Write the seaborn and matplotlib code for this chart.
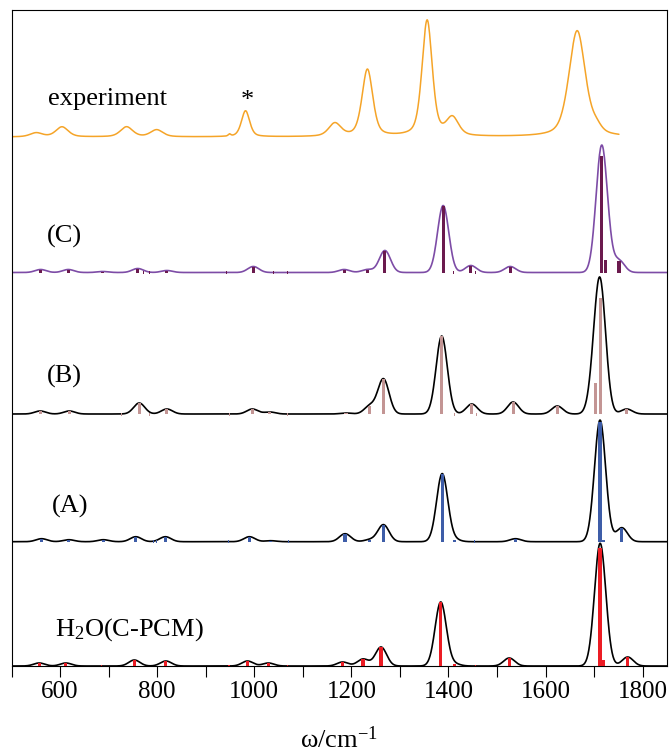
import numpy as np
import pandas as pd
import matplotlib
matplotlib.use("Agg")
import matplotlib.pyplot as plt
import seaborn as sns

# ---------------- data ----------------
# experiment: peak positions (cm-1), heights, widths (FWHM, cm-1)
exp_pos = [551, 604, 737, 799, 949, 982, 1166, 1233, 1356, 1408, 1665, 1705]
exp_height = [4, 10, 10, 7, 2, 26, 13, 67, 116, 18, 106, 6]
exp_fwhm = [30, 30, 30, 30, 6, 20, 30, 26, 25, 30, 40, 25]
exp_range = [500, 1751]

# (C) sticks
c_freq = [560, 617, 688, 760, 771, 785, 820, 942, 998, 1039, 1069, 1185, 1233, 1269,
          1389, 1411, 1446, 1455, 1527, 1715, 1723, 1751]
c_int = [3, 3, 1, 4, 0, 0, 2, 0, 6, 0, 0, 3, 3, 22, 67, 0, 7, 0, 6, 117, 13, 12]

# (B) sticks
b_freq = [559, 619, 727, 763, 785, 820, 949, 996, 1032, 1069, 1189, 1238, 1266, 1386,
          1413, 1448, 1457, 1533, 1624, 1702, 1713, 1767]
b_int = [3, 3, 0, 11, 0, 5, 0, 5, 2, 0, 1, 8, 35, 78, 0, 10, 0, 12, 8, 31, 116, 5]

# (A) sticks
a_freq = [562, 618, 689, 756, 792, 799, 817, 946, 990, 1034, 1070, 1187, 1238, 1266,
          1387, 1413, 1454, 1538, 1712, 1719, 1757]
a_int = [3, 2, 2, 5, 0, 0, 5, 0, 5, 1, 0, 8, 2, 17, 68, 2, 0, 3, 120, 2, 14]

# H2O (C-PCM) sticks
h_freq = [557, 612, 686, 753, 818, 948, 986, 1029, 1069, 1182, 1224, 1261, 1384, 1413,
          1456, 1525, 1712, 1720, 1769]
h_int = [3, 3, 0, 6, 5, 0, 5, 3, 0, 4, 7, 19, 64, 2, 0, 8, 118, 6, 9]

panel_labels = ["experiment", "(C)", "(B)", "(A)", "H$_2$O(C-PCM)"]
xticks_major = [600, 800, 1000, 1200, 1400, 1600, 1800]
xticks_minor = [500, 700, 900, 1100, 1300, 1500, 1700]

# ---------------- style ----------------
sns.set_theme(style="white")
plt.rcParams['font.family'] = ['Liberation Serif', 'DejaVu Serif']
plt.rcParams['mathtext.fontset'] = 'custom'
plt.rcParams['mathtext.rm'] = 'Liberation Serif'
plt.rcParams['mathtext.it'] = 'Liberation Serif:italic'
plt.rcParams['text.color'] = 'black'
plt.rcParams['axes.labelcolor'] = 'black'
plt.rcParams['xtick.color'] = 'black'
plt.rcParams['xtick.labelcolor'] = 'black'

W, H = 671, 755
fig = plt.figure(figsize=(W / 100, H / 100), dpi=100)
L, R, T, B = 11.5, 667.0, 10.0, 666.0
ax = fig.add_axes([L / W, 1 - B / H, (R - L) / W, (B - T) / H])

grid = np.arange(500, 1851, 1.0)
sigma = 11.5


def broaden(freq, inten):
    f = np.asarray(freq, float)[:, None]
    i = np.asarray(inten, float)[:, None]
    return (i * np.exp(-(grid[None, :] - f) ** 2 / (2 * sigma ** 2))).sum(axis=0)


# experiment curve: pseudo-Voigt sum of the read peaks
xe = grid[(grid >= exp_range[0]) & (grid <= exp_range[1])]
ye = np.zeros_like(xe)
eta = 0.45
for p, h, w in zip(exp_pos, exp_height, exp_fwhm):
    d = xe - p
    lor = 1.0 / (1.0 + (2 * d / w) ** 2)
    gau = np.exp(-4 * np.log(2) * d ** 2 / w ** 2)
    ye += h * (eta * lor + (1 - eta) * gau)

base_exp, base_c, base_b, base_a, base_h = 529, 393.5, 252, 124.3, 0

sns.lineplot(x=xe, y=ye + base_exp, color='#F5A428', lw=1.1, ax=ax,
             estimator=None, sort=False)

panels = [
    (c_freq, c_int, base_c, '#7D4CA6', '#6B1A4E'),
    (b_freq, b_int, base_b, 'black', '#C39594'),
    (a_freq, a_int, base_a, 'black', '#3E5DA8'),
    (h_freq, h_int, base_h, 'black', '#EC1C24'),
]
for freq, inten, base, lc, sc in panels:
    y = broaden(freq, inten) + base
    sns.lineplot(x=grid, y=y, color=lc, lw=1.2, ax=ax, estimator=None,
                 sort=False, zorder=2)
    freq = np.asarray(freq, float)
    inten = np.asarray(inten, float)
    big = inten > 0
    ax.bar(freq[big], inten[big], bottom=base, width=6.5, color=sc,
           linewidth=0, zorder=3)
    ax.bar(freq[~big], 3.0, bottom=base - 1.5, width=2.2, color=sc,
           linewidth=0, zorder=3)

# ---------------- texts ----------------
def px2data(px, py):
    return 500 + (px - L) * 1350 / (R - L), B - py

label_px = [(48, 99), (47, 236), (47, 376), (52, 506), (55, 630)]
for txt, (px, py) in zip(panel_labels, label_px):
    ax.text(*px2data(px, py), txt, fontsize=19, ha='left', va='center',
            color='black')
ax.text(*px2data(247, 101), '*', fontsize=19, ha='center', va='center',
        color='black')

ax.set_xlim(500, 1850)
ax.set_ylim(0, B - T)
ax.set_xticks(xticks_major)
ax.set_xticks(xticks_minor, minor=True)
ax.set_yticks([])
ax.tick_params(axis='x', which='both', direction='out', length=8, width=0.8,
               color='black', bottom=True)
ax.tick_params(axis='x', which='major', labelsize=18, pad=3, labelcolor='black')
for s in ax.spines.values():
    s.set_visible(True)
    s.set_color('black')
    s.set_linewidth(0.8)
ax.set_xlabel('ω/cm$^{-1}$', fontsize=19, labelpad=17, color='black')
ax.set_ylabel('')

fig.savefig('out.png', dpi=100)
